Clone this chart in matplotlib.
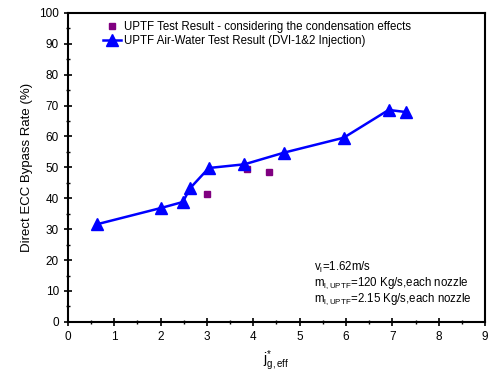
import matplotlib
import matplotlib.pyplot as plt
import numpy as np
from matplotlib.ticker import MultipleLocator

matplotlib.use('Agg')

plt.rcParams['font.family'] = ['Liberation Sans', 'DejaVu Sans']
plt.rcParams['mathtext.fontset'] = 'custom'
plt.rcParams['mathtext.rm'] = 'Liberation Sans'
plt.rcParams['mathtext.it'] = 'Liberation Sans'

# air-water test (triangles)
air_x = [0.63, 2.02, 2.48, 2.64, 3.04, 3.81, 4.67, 5.95, 6.92, 7.30]
air_y = [31.6, 36.9, 38.8, 43.3, 49.8, 51.0, 54.8, 59.6, 68.6, 67.9]

# condensation test (squares)
cond_x = [3.01, 3.86, 4.33]
cond_y = [41.5, 49.6, 48.4]

fig = plt.figure(figsize=(4.88, 3.8), dpi=100)
ax = fig.add_axes([0.139, 0.153, 0.855, 0.813])

ax.plot(cond_x, cond_y, 's', color='#800080', markersize=5, markeredgecolor='#800080',
        label='UPTF Test Result - considering the condensation effects')
ax.plot(air_x, air_y, '-^', color='#0000ff', markersize=8.5, linewidth=1.8,
        label='UPTF Air-Water Test Result (DVI-1&2 Injection)')

ax.set_xlim(0, 9)
ax.set_ylim(0, 100)
ax.xaxis.set_major_locator(MultipleLocator(1))
ax.xaxis.set_minor_locator(MultipleLocator(0.5))
ax.yaxis.set_major_locator(MultipleLocator(10))
ax.yaxis.set_minor_locator(MultipleLocator(5))
ax.tick_params(which='major', direction='inout', length=6, width=1.2, labelsize=8.5)
ax.tick_params(which='minor', direction='inout', length=3, width=1)
for s in ax.spines.values():
    s.set_linewidth(1.5)

ax.set_ylabel('Direct ECC Bypass Rate (%)', fontsize=9.5)
ax.set_xlabel(r'j$^{*}_{\mathregular{g,eff}}$', fontsize=10)

ax.legend(loc='upper left', bbox_to_anchor=(0.065, 1.0), frameon=False, fontsize=8.3,
          handlelength=1.6, handletextpad=0.2, borderaxespad=0.3, labelspacing=0.15)

ax.text(0.59, 0.2, r'v$_\mathregular{l}$=1.62m/s' + '\n'
        + r'm$_\mathregular{l,UPTF}$=120 Kg/s,each nozzle' + '\n'
        + r'm$_\mathregular{l,UPTF}$=2.15 Kg/s,each nozzle',
        transform=ax.transAxes, fontsize=8.3, va='top', linespacing=1.05)

fig.savefig('out.png', dpi=100)
